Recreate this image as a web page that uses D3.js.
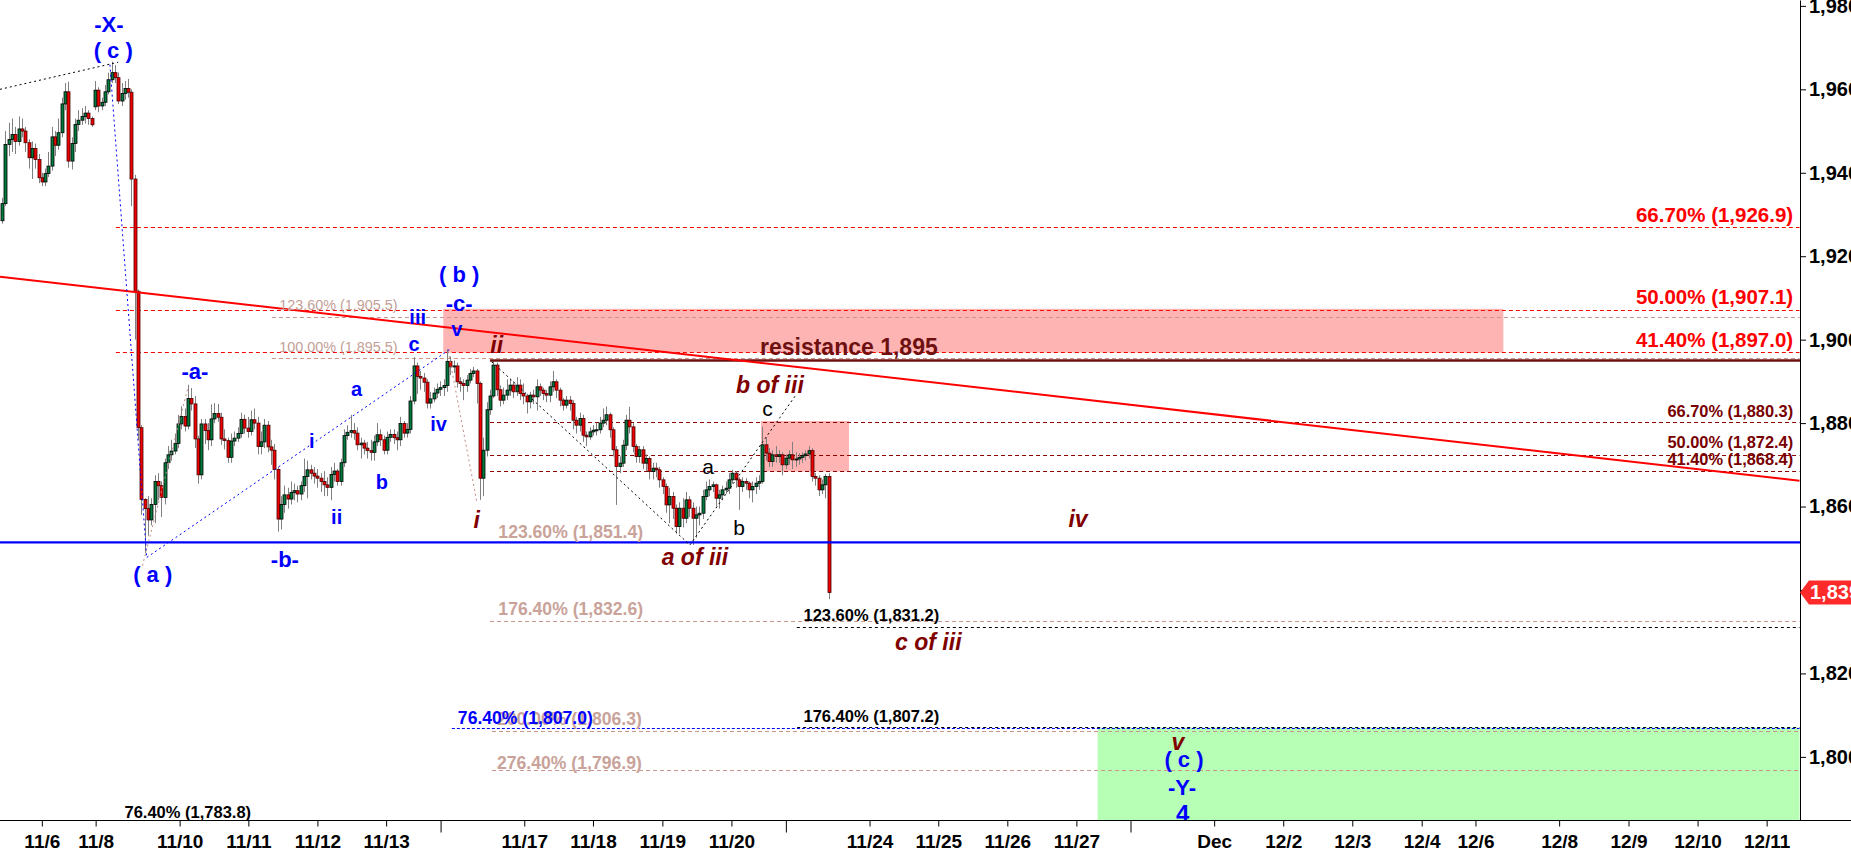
<!DOCTYPE html>
<html><head><meta charset="utf-8">
<script src="https://cdn.jsdelivr.net/npm/d3@7"></script>
<style>
html,body{margin:0;padding:0;background:#fff;overflow:hidden;}
svg{display:block;font-family:"Liberation Sans",Arial,sans-serif;}
</style></head><body>
<svg id="chart" width="1851" height="851"></svg>
<script>
// ---------- DATA ----------
// hourly candles [open, high, low, close]
const candles = [
[1928.5,1934,1927.8,1932.6],[1932.6,1950,1932,1946.8],[1946.8,1952,1944,1948.0],[1948,1953,1945,1949.2],[1949.2,1951,1944.5,1947.5],
[1947.5,1953.5,1946.5,1950.5],[1950.5,1953,1948.5,1950.0],[1950,1951,1945,1947.2],[1947.2,1948,1941,1943.6],[1943.6,1947.5,1938.5,1945.8],
[1945.8,1947,1941,1943.2],[1943.2,1944.5,1937.5,1938.8],[1938.8,1940,1936.8,1937.8],[1937.8,1941,1936.8,1939.8],[1939.8,1945,1939,1941.6],
[1941.6,1951,1940.5,1948.6],[1948.6,1950,1944,1946.6],[1946.6,1953,1945.5,1949.6],[1949.6,1958,1948.5,1956.5],[1956.5,1961.5,1955,1959.4],
[1959.4,1961.8,1941.2,1942.8],[1942.8,1948.5,1940.8,1947.0],[1947,1953,1945,1951.6],[1951.6,1955,1950,1952.6],[1952.6,1955.5,1951.5,1953.5],
[1953.5,1956,1951.8,1954.3],[1954.3,1955,1951.5,1953.0],[1953,1953.5,1951,1951.5],[1955.8,1962,1955,1959.8],[1959.8,1960.5,1954.5,1956.0],
[1956,1958,1955,1956.9],[1956.9,1961,1956,1959.4],[1959.4,1964,1958.8,1962.3],[1962.3,1966.6,1961.5,1964.0],[1964,1965.8,1961.5,1962.8],
[1962.8,1964,1956.5,1957.2],[1957.2,1961.5,1956,1959.0],[1959,1962,1957.5,1960.2],[1960.2,1962.5,1958,1959.3],[1959.3,1960,1932,1938.5],
[1938.5,1939.5,1900,1911.6],[1911.6,1912,1876,1878.9],[1878.9,1879.5,1858,1861.7],[1861.7,1862,1848.8,1859.5],[1859.5,1862.5,1853,1856.8],
[1856.8,1862,1855.5,1860.5],[1860.5,1867.5,1856,1866.0],[1866,1868,1861.5,1865.0],[1865,1866,1857.5,1862.2],[1862.2,1871.5,1860.5,1870.5],
[1870.5,1874.5,1869,1872.4],[1872.4,1876,1871,1873.3],[1873.3,1877.5,1872.5,1875.1],[1875.1,1882,1874,1879.8],[1879.8,1884,1878.5,1881.6],
[1881.6,1883.5,1878,1879.3],[1879.3,1889.2,1878.5,1885.9],[1885.9,1888.4,1883,1884.6],[1884.6,1886.5,1874,1876.2],[1876.2,1877,1865.5,1867.6],
[1867.6,1881,1866.5,1879.8],[1879.8,1881,1875,1878.2],[1878.2,1880,1873.5,1876.0],[1876,1884.5,1874.5,1881.0],[1881,1884.8,1880,1882.3],
[1882.3,1884.6,1880.3,1881.4],[1881.4,1882.5,1874.8,1876.2],[1876.2,1878.5,1873.7,1875.8],[1875.8,1876.5,1870.5,1871.8],[1871.8,1877.5,1870.5,1875.7],
[1875.7,1878,1874.5,1876.4],[1876.4,1879,1875.5,1877.5],[1877.5,1882.5,1876.5,1880.9],[1880.9,1882,1877.5,1878.8],[1878.8,1881.5,1876.5,1878.0],
[1878,1883,1877,1880.8],[1880.8,1883.5,1878.5,1880.0],[1880,1881.5,1872.5,1874.4],[1874.4,1878,1872.5,1875.5],[1875.5,1881,1874,1879.5],
[1879.5,1880.5,1873,1874.3],[1874.3,1876,1870,1873.5],[1873.5,1875,1866.5,1868.9],[1868.9,1869.5,1854,1857.0],[1857,1862.5,1854.5,1860.5],
[1860.5,1865,1858.5,1862.8],[1862.8,1864.5,1859.5,1861.8],[1861.8,1866,1860.5,1863.4],[1863.4,1865.5,1861.5,1863.8],[1863.8,1865,1861,1863.0],
[1863,1866,1861.5,1865.0],[1865,1871.5,1863.5,1867.2],[1867.2,1871,1862,1868.8],[1868.8,1870,1866.5,1868.0],[1868,1869.5,1865.5,1867.3],
[1867.3,1869,1864.5,1866.8],[1866.8,1868,1863.5,1866.0],[1866,1868.5,1862.5,1865.2],[1865.2,1867,1862.5,1864.6],[1864.6,1869.5,1861.5,1867.7],
[1867.7,1870.5,1866,1868.5],[1868.5,1869,1865,1866.0],[1866,1871.5,1865,1870.5],[1870.5,1878.5,1869.5,1877.0],[1877,1879.5,1876,1877.8],
[1877.8,1882,1876.5,1878.2],[1878.2,1880,1876,1877.6],[1877.6,1879,1873.5,1874.8],[1874.8,1876.5,1871.5,1875.2],[1875.2,1876,1872.5,1874.0],
[1874,1875.5,1871.5,1873.4],[1873.4,1876,1871,1873.0],[1873,1877,1871,1875.5],[1875.5,1880,1874.5,1877.2],[1877.2,1878.5,1874.5,1876.0],
[1876,1877,1872.5,1873.5],[1873.5,1878,1872.5,1876.6],[1876.6,1878.5,1875.5,1877.3],[1877.3,1878.5,1875,1876.5],[1876.5,1878,1873.5,1876.0],
[1876,1881.5,1874.5,1879.9],[1879.9,1880.5,1876.5,1877.6],[1877.6,1880,1876.5,1878.5],[1878.5,1886.5,1877.5,1885.3],[1885.3,1895.8,1884.5,1893.7],
[1893.7,1894.5,1887,1891.2],[1891.2,1892.5,1888,1890.8],[1890.8,1892,1887.5,1889.8],[1889.8,1890.5,1883.5,1884.8],[1884.8,1887.5,1883.5,1885.8],
[1885.8,1888.5,1885,1887.2],[1887.2,1889.5,1886,1888.1],[1888.1,1890,1886.5,1888.5],[1888.5,1890.5,1886.5,1889.0],[1889,1897.7,1887.5,1894.8],
[1894.8,1896,1891.5,1893.5],[1893.5,1895,1892,1893.7],[1893.7,1894.5,1888.5,1889.9],[1889.9,1891,1887.5,1889.5],[1889.5,1890.5,1885.5,1889.0],
[1889,1891.5,1887.5,1890.3],[1890.3,1893,1889.5,1891.9],[1891.9,1893.5,1891,1892.5],[1892.5,1893,1884.7,1889.5],[1889.5,1890,1861.6,1866.8],
[1866.8,1876.5,1862.5,1873.5],[1873.5,1885,1872,1883.2],[1883.2,1888,1882,1886.5],[1886.5,1895.1,1886,1893.9],[1893.9,1894.5,1886.5,1888.0],
[1888,1889,1884,1885.5],[1885.5,1888.5,1884.5,1886.7],[1886.7,1890.5,1885.5,1887.9],[1887.9,1890.5,1886.5,1889.1],[1889.1,1890,1886,1887.5],
[1887.5,1891,1886.5,1889.1],[1889.1,1890.5,1885.5,1887.1],[1887.1,1889.5,1884.5,1886.5],[1886.5,1887,1882.3,1885.1],[1885.1,1887.5,1883.5,1886.7],
[1886.7,1888,1884.5,1886.3],[1886.3,1890.5,1883,1888.7],[1888.7,1889.5,1886.5,1887.9],[1887.9,1888.5,1885.5,1887.1],[1887.1,1888,1885,1886.7],
[1886.7,1890,1885,1888.7],[1888.7,1892.5,1887.5,1889.9],[1889.9,1890.5,1886,1887.9],[1887.9,1888.5,1884,1885.5],[1885.5,1886,1883,1884.3],
[1884.3,1886.5,1883.5,1885.5],[1885.5,1886.5,1883,1884.7],[1884.7,1885.5,1878.5,1880.7],[1880.7,1881.5,1877.5,1879.5],[1879.5,1882.5,1878,1881.1],
[1881.1,1882,1875.5,1877.1],[1877.1,1878,1874.5,1876.7],[1876.7,1879,1876,1877.9],[1877.9,1879.5,1877,1878.3],[1878.3,1880,1877,1878.4],
[1878.4,1881.5,1877.5,1880.0],[1880,1883.5,1879,1880.7],[1880.7,1884,1879.5,1882.0],[1882,1882.5,1876.5,1878.4],[1878.4,1879,1872,1873.6],
[1873.6,1874.5,1860.4,1869.6],[1869.6,1872,1868,1870.4],[1870.4,1876,1869.5,1874.7],[1874.7,1882,1873.5,1880.7],[1880.7,1883.9,1877.5,1879.1],
[1879.1,1880,1873,1874.4],[1874.4,1875,1870.5,1872.0],[1872,1874.5,1870.5,1873.6],[1873.6,1874.5,1869,1870.4],[1870.4,1872.5,1868.5,1871.5],
[1871.5,1872,1866.5,1868.4],[1868.4,1870.5,1866.5,1869.2],[1869.2,1870.5,1867,1868.8],[1868.8,1869.5,1864.5,1866.4],[1866.4,1867,1863,1864.8],
[1864.8,1865.5,1858.5,1860.4],[1860.4,1864.5,1856,1862.4],[1862.4,1863.5,1857,1859.6],[1859.6,1860.5,1853.5,1855.2],[1855.2,1861,1853.5,1859.6],
[1859.6,1862,1855,1857.2],[1857.2,1863.5,1856,1861.6],[1861.6,1862.5,1857.5,1859.6],[1859.6,1861,1850.8,1857.2],[1857.2,1860,1852.5,1858.0],
[1858,1860,1855.5,1858.4],[1858.4,1864,1857,1862.4],[1862.4,1866,1861.5,1864.0],[1864,1866.5,1862.5,1864.8],[1864.8,1866,1863.5,1865.2],
[1865.2,1865.5,1860,1862.0],[1862,1864,1859.5,1862.8],[1862.8,1865,1861.5,1864.0],[1864,1866,1863,1864.4],[1864.4,1868,1863,1866.4],
[1866.4,1868.8,1865.5,1868.0],[1868,1868.5,1864.5,1866.4],[1866.4,1867,1859.2,1864.8],[1864.8,1867,1863.5,1866.0],[1866,1866.8,1864,1865.6],
[1865.6,1866,1862,1864.0],[1864,1866,1861,1864.8],[1864.8,1867,1863,1865.6],[1865.6,1867.5,1864,1866.0],[1866,1879.1,1865.5,1874.8],
[1874.8,1876.5,1871,1872.8],[1872.8,1874,1869.5,1870.8],[1870.8,1873.5,1869.5,1872.4],[1872.4,1874.5,1870.5,1872.0],[1872,1873.5,1870.5,1872.4],
[1872.4,1873,1867.5,1870.0],[1870,1872.5,1869,1871.6],[1871.6,1873.5,1870,1872.4],[1872.4,1875.5,1869,1871.2],[1871.2,1873,1869.5,1871.4],
[1871.4,1872.8,1870,1871.8],[1871.8,1873,1870.5,1872.2],[1872.2,1873.5,1871,1872.6],[1872.6,1874.5,1871.5,1873.4],[1873.4,1874,1866,1867.2],
[1867.2,1868,1865,1866.8],[1866.8,1867.5,1862.5,1864.0],[1864,1866.5,1863,1865.2],[1865.2,1867.8,1862,1867.2],[1867.2,1868,1837.8,1839.4]
];

// axis ticks (x positions in bar units)
const xTickPos = [12,28.2,53.5,74.2,95,115.7,132.1,157.3,178,198.9,219.7,236.1,261.3,282,302.8,323.6,339.9,365.1,385.9,406.7,427.6,443.8,469,489.9,510.7,531.5];
const xTickLabels = ["11/6","11/8","11/10","11/11","11/12","11/13","","11/17","11/18","11/19","11/20","","11/24","11/25","11/26","11/27","","Dec","12/2","12/3","12/4","12/6","12/8","12/9","12/10","12/11"];
const yTicks = [1800,1820,1840,1860,1880,1900,1920,1940,1960,1980];

// fibonacci levels: [price, start bar]
const redFibLevels = [[1926.9,34.3],[1907.1,34.3],[1897.0,34.3]];
const redFibLabels = [["66.70% (1,926.9)",539.5,1929.9],["50.00% (1,907.1)",539.5,1910.3],["41.40% (1,897.0)",539.5,1900.1]];
const maroonFibLevels = [[1880.3,147],[1872.4,147],[1868.4,147]];
const maroonFibLabels = [["66.70% (1,880.3)",539.5,1883.0],["50.00% (1,872.4)",539.5,1875.4],["41.40% (1,868.4)",539.5,1871.3]];
const rosyLevels = [[1905.5,81.3],[1895.5,81.3],[1832.6,147],[1806.3,147.6],[1796.9,147.6]];
const rosySmallLabels = [["123.60% (1,905.5)",83.5,1908.3],["100.00% (1,895.5)",83.5,1898.3]];
const rosyLabels = [["123.60% (1,851.4)",149.5,1854.0],["176.40% (1,832.6)",149.5,1835.4],["200.00% (1,806.3)",149.1,1809.0],["276.40% (1,796.9)",149.1,1798.6]];
const blueDashLevels = [[1807.0,135.5]];
const blueDashLabels = [["76.40% (1,807.0)",137.3,1809.4]];
const blackDashLevels = [[1831.2,239.4],[1807.2,239.5]];
const blackDashLabels = [["123.60% (1,831.2)",241.4,1834.0],["176.40% (1,807.2)",241.4,1809.9],["76.40% (1,783.8)",36.9,1786.8]];

const supportLevel = 1851.4;
const resistanceLevel = [1895.0,147];
const resistanceLabel = [["resistance 1,895",228.3,1898.3]];
const trendLine = [[-0.6,1915.1],[541.4,1866.2]];

// zones: [bar0, bar1, price low, price high]
const pinkZones = [[132.9,452.2,1896.9,1907.4],[228.6,255.1,1868.4,1880.5]];
const greenZone = [[330,541.4,1784.75,1807.0]];

// wave connector lines
const blackWaves = [[[-0.6,1960.0],[35,1966.5]],[[147.5,1894.7],[207.2,1850.8]],[[207.2,1850.8],[238.9,1886.5]]];
const blueWaves = [[[32.5,1965.9],[43.6,1847.8]],[[43.6,1847.8],[134.9,1897.7]]];
const rosyWaves = [[[42.3,1845.8],[56,1888.5]],[[134.4,1897.2],[143,1861.2]]];

// wave labels: [text, bar, price]
const waveBlueBig = [["-X-",32.2,1975.5],["( c )",33.5,1969.3],["( a )",45.4,1843.8],["-a-",58.1,1892.3],["-b-",85.2,1847.4],
  ["( b )",137.7,1915.5],["-c-",137.7,1908.7],["( c )",356.0,1799.4],["-Y-",355.4,1792.7]];
const waveBlueSmall = [["i",93.3,1875.7],["ii",100.8,1857.5],["a",106.8,1888.2],["b",114.4,1866.0],["c",124.1,1899.0],
  ["iii",125.2,1905.4],["iv",131.5,1879.7],["v",137.0,1902.6]];
const waveDegree = [["4",355.6,1786.5]];
const waveMaroon = [["i",143.0,1856.8],["ii",149.0,1898.7],["a of iii",208.7,1848.0],["b of iii",231.3,1889.1],
  ["iv",324.1,1857.0],["c of iii",279.0,1827.6],["v",354.2,1803.5]];
const waveBlack = [["a",212.7,1869.6],["b",222.0,1854.9],["c",230.6,1883.6]];

// ---------- DRAW ----------
const W = 1851, H = 851, plotR = 1800, plotB = 820.5;
const svg = d3.select("#chart");
const x = d3.scaleLinear().domain([0,541.4]).range([2,1799.5]);
const y = d3.scaleLinear().domain([1784.75,1981.41]).range([plotB,0]);
const sy = v => Math.round(y(v)) + 0.5;

svg.append("rect").attr("width",W).attr("height",H).attr("fill","#fff");
svg.append("defs").append("clipPath").attr("id","plot").append("rect")
  .attr("x",0).attr("y",0).attr("width",plotR).attr("height",plotB);
const g = svg.append("g").attr("clip-path","url(#plot)");

// zones
g.selectAll(null).data(pinkZones).join("rect")
  .attr("x",d=>x(d[0])).attr("width",d=>x(d[1])-x(d[0]))
  .attr("y",d=>y(d[3])).attr("height",d=>y(d[2])-y(d[3])).attr("fill","#ffb4b4");
g.selectAll(null).data(greenZone).join("rect")
  .attr("x",d=>x(d[0])).attr("width",d=>x(d[1])-x(d[0]))
  .attr("y",d=>y(d[3])).attr("height",d=>y(d[2])-y(d[3])).attr("fill","#b6ffb4");

function levels(arr,color,dash,w){
  g.selectAll(null).data(arr).join("line")
    .attr("x1",d=>x(d[1])).attr("x2",x(541.4))
    .attr("y1",d=>sy(d[0])).attr("y2",d=>sy(d[0]))
    .attr("stroke",color).attr("stroke-width",w||1).attr("stroke-dasharray",dash);
}
levels(redFibLevels,"#ff0000","4,3");
levels(rosyLevels,"#c9958c","4,3");
levels(maroonFibLevels,"#8b0000","4,3");
levels(blueDashLevels,"#0000ff","3,2");
levels(blackDashLevels,"#000000","3,3");

// candles
const bars = g.append("g");
bars.selectAll(null).data(candles).join("line")
  .attr("x1",(d,i)=>Math.round(x(i))+0.5).attr("x2",(d,i)=>Math.round(x(i))+0.5)
  .attr("y1",d=>y(d[1])).attr("y2",d=>y(d[2]))
  .attr("stroke","#808080").attr("stroke-width",1);
bars.selectAll(null).data(candles).join("rect")
  .attr("x",(d,i)=>Math.round(x(i))-1)
  .attr("width",3)
  .attr("y",d=>y(Math.max(d[0],d[3])))
  .attr("height",d=>Math.max(1,Math.abs(y(d[0])-y(d[3]))))
  .attr("fill",d=>d[3]>=d[0]?"#007a3d":"#ee0000")
  .attr("stroke",d=>d[3]>=d[0]?"#000000":"#4a0000").attr("stroke-width",0.8);

// solid lines
g.append("line").attr("x1",0).attr("x2",plotR).attr("y1",y(supportLevel)).attr("y2",y(supportLevel))
  .attr("stroke","#0000ff").attr("stroke-width",2.2);
g.append("line").attr("x1",x(resistanceLevel[1])).attr("x2",plotR)
  .attr("y1",y(resistanceLevel[0])).attr("y2",y(resistanceLevel[0]))
  .attr("stroke","#6e1010").attr("stroke-width",2.4);
g.append("line").attr("x1",x(trendLine[0][0])).attr("y1",y(trendLine[0][1]))
  .attr("x2",x(trendLine[1][0])).attr("y2",y(trendLine[1][1]))
  .attr("stroke","#ff0000").attr("stroke-width",2);

function segs(arr,color,dash){
  g.selectAll(null).data(arr).join("line")
    .attr("x1",d=>x(d[0][0])).attr("y1",d=>y(d[0][1]))
    .attr("x2",d=>x(d[1][0])).attr("y2",d=>y(d[1][1]))
    .attr("stroke",color).attr("stroke-width",1).attr("stroke-dasharray",dash);
}
segs(blackWaves,"#000","2,3");
segs(blueWaves,"#0000ff","2,3");
segs(rosyWaves,"#c08a82","2,3");

// labels
function labels(arr,o){
  g.selectAll(null).data(arr).join("text")
    .attr("x",d=>x(d[1])).attr("y",d=>y(d[2]))
    .attr("text-anchor",o.anchor||"middle").attr("dominant-baseline","central")
    .attr("font-size",o.size).attr("font-weight",o.weight||"bold")
    .attr("font-style",o.style||"normal").attr("fill",o.color)
    .text(d=>d[0]);
}
labels(redFibLabels,{anchor:"end",size:20.5,color:"#ff0000"});
labels(maroonFibLabels,{anchor:"end",size:16.4,color:"#780000"});
labels(rosySmallLabels,{anchor:"start",size:14.4,weight:"normal",color:"#c4a098"});
labels(rosyLabels,{anchor:"start",size:17.6,color:"#c9a39a"});
labels(blueDashLabels,{anchor:"start",size:17.6,color:"#0000ff"});
labels(blackDashLabels,{anchor:"start",size:16.5,color:"#000"});
labels(resistanceLabel,{anchor:"start",size:23,color:"#6e1010"});
labels(waveBlueBig,{size:22,color:"#0000ff"});
labels(waveBlueSmall,{size:20,color:"#0000ff"});
labels(waveDegree,{size:24,color:"#0000ff"});
labels(waveMaroon,{size:23,style:"italic",color:"#800000"});
labels(waveBlack,{size:21,weight:"normal",color:"#000"});

// axes
const xAxis = d3.axisBottom(x).tickValues(xTickPos).tickFormat((d,i)=>xTickLabels[i])
  .tickSize(6).tickPadding(8).tickSizeOuter(0);
const gx = svg.append("g").attr("transform",`translate(0,${plotB})`).call(xAxis)
  .attr("font-family","'Liberation Sans',Arial,sans-serif").attr("font-size",19).attr("font-weight","bold");
gx.select(".domain").remove();
gx.selectAll(".tick").filter((d,i)=>xTickLabels[i]==="").select("line").attr("y2",12);
gx.selectAll(".tick line").attr("stroke","#000");
gx.selectAll(".tick text").attr("fill","#000");
svg.append("line").attr("x1",0).attr("x2",W).attr("y1",plotB).attr("y2",plotB).attr("stroke","#000");

const yAxis = d3.axisRight(y).tickValues(yTicks).tickFormat(d3.format(","))
  .tickSize(6).tickPadding(3).tickSizeOuter(0);
const gy = svg.append("g").attr("transform",`translate(${plotR},0)`).call(yAxis)
  .attr("font-family","'Liberation Sans',Arial,sans-serif").attr("font-size",20).attr("font-weight","bold");
gy.selectAll(".domain,.tick line").attr("stroke","#000");
gy.selectAll(".tick text").attr("fill","#000");

// last price tag
const last = candles[candles.length-1][3];
const ty = y(last);
svg.append("path")
  .attr("d",`M${plotR},${ty} L${plotR+9},${ty-12} H${W} V${ty+12} H${plotR+9} Z`)
  .attr("fill","#ff2a2a");
svg.append("text").attr("x",plotR+10).attr("y",ty).attr("dominant-baseline","central")
  .attr("font-size",20).attr("font-weight","bold").attr("fill","#fff")
  .text(d3.format(",.0f")(last));
</script>
</body></html>
